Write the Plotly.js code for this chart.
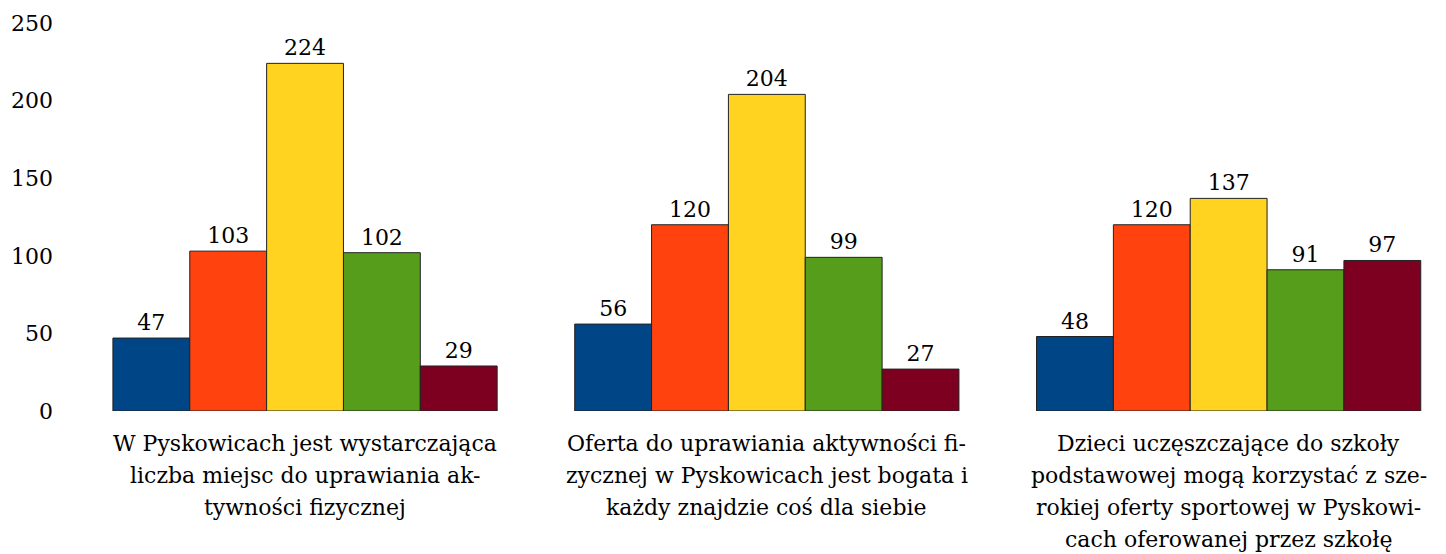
<!DOCTYPE html>
<html>
<head>
<meta charset="utf-8">
<script src="https://cdn.plot.ly/plotly-3.0.1.min.js"></script>
<style>html,body{margin:0;padding:0;background:#fff;}#chart{width:1446px;height:554px;}</style>
</head>
<body>
<div id="chart"></div>
<script>
const categories = [
  "W Pyskowicach jest wystarczająca<br>liczba miejsc do uprawiania ak-<br>tywności fizycznej",
  "Oferta do uprawiania aktywności fi-<br>zycznej w Pyskowicach jest bogata i<br>każdy znajdzie coś dla siebie",
  "Dzieci uczęszczające do szkoły<br>podstawowej mogą korzystać z sze-<br>rokiej oferty sportowej w Pyskowi-<br>cach oferowanej przez szkołę"
];
const seriesNames = ["Seria 1", "Seria 2", "Seria 3", "Seria 4", "Seria 5"];
const series1 = [47, 56, 48];
const series2 = [103, 120, 120];
const series3 = [224, 204, 137];
const series4 = [102, 99, 91];
const series5 = [29, 27, 97];
const colors = ["#004586", "#ff420e", "#ffd320", "#579d1c", "#7e0021"];
const yTicks = [0, 50, 100, 150, 200, 250];

const allSeries = [series1, series2, series3, series4, series5];
const font = {family: "DejaVu Serif, serif", size: 22, color: "#000"};

const W = 1446, H = 554;
const M = {l: 60, r: 10, t: 23, b: 143};
const plotH = H - M.t - M.b;

const traces = allSeries.map((vals, i) => ({
  type: "bar",
  name: seriesNames[i],
  x: [0, 1, 2],
  y: vals,
  text: vals.map(String),
  textposition: "outside",
  textfont: font,
  constraintext: "none",
  cliponaxis: false,
  marker: {color: colors[i], line: {color: "#222", width: 1}},
  hoverinfo: "y"
}));

// category labels: one annotation per line, 32px line pitch below the axis
const annotations = [];
categories.forEach((label, ci) => {
  label.split("<br>").forEach((line, li) => {
    const yPx = 32 + 32 * li; // distance below the axis, line centre
    annotations.push({
      xref: "x", yref: "paper",
      x: ci, y: -yPx / plotH,
      text: line, showarrow: false,
      xanchor: "center", yanchor: "middle",
      font: font
    });
  });
});

const layout = {
  width: W, height: H,
  margin: M,
  paper_bgcolor: "#fff", plot_bgcolor: "#fff",
  showlegend: false,
  barmode: "group",
  bargap: 0.168,
  bargroupgap: 0,
  font: font,
  annotations: annotations,
  xaxis: {
    tickmode: "array",
    tickvals: [0, 1, 2],
    showticklabels: false,
    range: [-0.5306, 2.449],
    showgrid: false, zeroline: false, showline: false,
    ticks: ""
  },
  yaxis: {
    range: [0, 250],
    tickmode: "array",
    tickvals: yTicks,
    ticktext: yTicks.map(String),
    showgrid: false, zeroline: false, showline: false,
    ticks: "", tickfont: font, ticklabelstandoff: 6
  }
};

Plotly.newPlot("chart", traces, layout, {displayModeBar: false, staticPlot: true});
</script>
</body>
</html>
